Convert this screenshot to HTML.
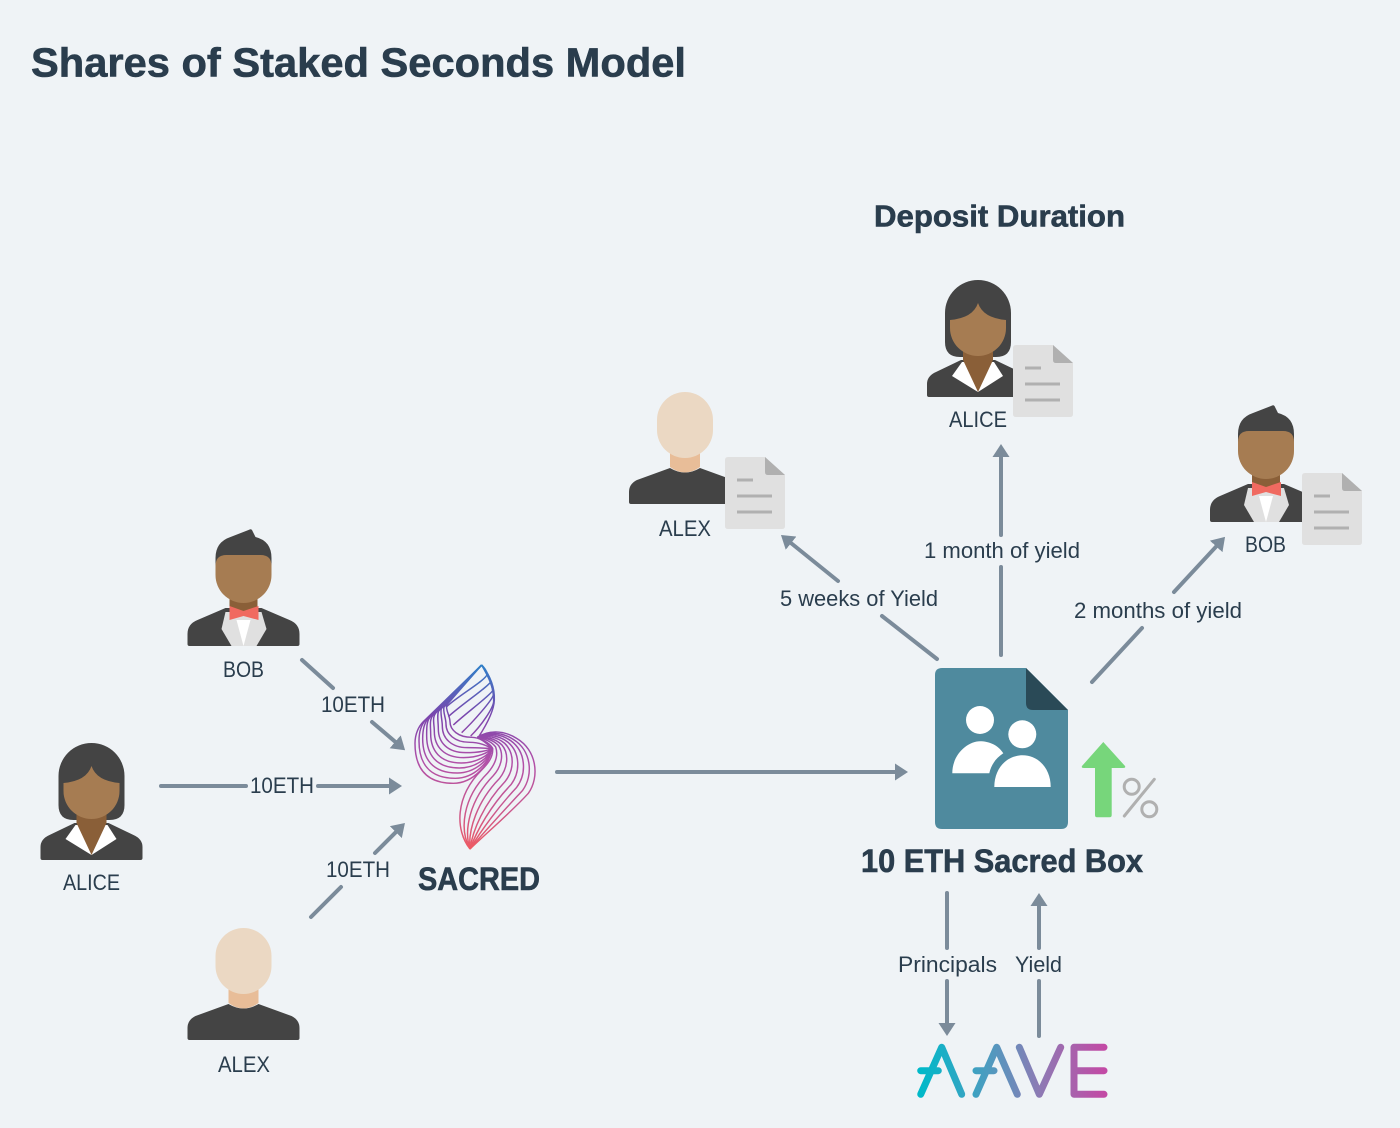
<!DOCTYPE html>
<html><head><meta charset="utf-8"><style>
html,body{margin:0;padding:0;background:#eff3f6}
svg{display:block}
text{font-family:"Liberation Sans",sans-serif;fill:#2a3d4d;font-size:22px}
.b{font-weight:bold;stroke:#2a3d4d;stroke-width:.6px}
.c{stroke:#7b8b9a;stroke-width:4;stroke-linecap:round;fill:none}
.ah{marker-end:url(#h)}
</style></head><body>
<svg width="1400" height="1128" viewBox="0 0 1400 1128" xmlns="http://www.w3.org/2000/svg">
<defs>
<marker id="h" markerUnits="userSpaceOnUse" markerWidth="13" markerHeight="17" refX="5" refY="8.5" orient="auto" viewBox="0 0 13 17"><path d="M0,0 L13,8.5 L0,17 Z" fill="#7b8b9a"/></marker>
<linearGradient id="sg" gradientUnits="userSpaceOnUse" x1="0" y1="45" x2="0" y2="597">
<stop offset="0" stop-color="#2f80c8"/><stop offset=".28" stop-color="#7b45ad"/><stop offset=".52" stop-color="#b04fa8"/><stop offset=".78" stop-color="#c9588f"/><stop offset="1" stop-color="#ee5a62"/></linearGradient>
<linearGradient id="ag" gradientUnits="userSpaceOnUse" x1="920" y1="0" x2="1104" y2="0">
<stop offset="0" stop-color="#00b9c9"/><stop offset=".38" stop-color="#4f9abf"/><stop offset=".65" stop-color="#8d7ab4"/><stop offset="1" stop-color="#c24aa5"/></linearGradient>
<g id="alice">
<path d="M-33,33 A33,33 0 0 1 33,33 V62 Q33,77 18,77 H-18 Q-33,77 -33,62 Z" fill="#444"/>
<path d="M-51,115 V104 Q-51,96 -42,92 L-17,80 H17 L42,92 Q51,96 51,104 V115 Q51,117 49,117 H-49 Q-51,117 -51,115 Z" fill="#444"/>
<path d="M-16,82 L-26,96 L0,112 L25,96 L16,82 Z" fill="#fff"/>
<path d="M-15,70 H15 V80 L0,112 L-15,80 Z" fill="#8a5f38"/>
<path d="M-28,40 Q-5,38 0,23 Q5,38 28,40 V48 A28,28 0 0 1 -28,48 Z" fill="#a67c52"/>
</g>
<g id="bob">
<path d="M-56,116 V106 Q-56,96 -46,92 L-18,80 H18 L46,92 Q56,96 56,106 V116 Q56,118 54,118 H-54 Q-56,118 -56,116 Z" fill="#444"/>
<path d="M-18,84 L-22,101 L-12,118 H13 L23,101 L18,84 Z" fill="#e0e0e0"/>
<path d="M-7,92 L0,118 L7,92 Z" fill="#fff"/>
<rect x="-14" y="62" width="28" height="22" fill="#8a5f38"/>
<path d="M-14,78 L0,83 L15,78 V92 L0,88 L-14,92 Z" fill="#f06a60"/>
<path d="M-28,42 V30 Q-28,14 -13,9 L5,2 Q8,0 9,3 L12,9 Q28,13 28,30 V42 Z" fill="#444"/>
<path d="M-28,38 Q-28,27 -17,27 H17 Q28,27 28,38 V47 A28,28 0 0 1 -28,47 Z" fill="#a67c52"/>
</g>
<g id="alex">
<path d="M-56,110 V100 Q-56,92 -48,88 L-15,76 Q0,85 15,76 L48,88 Q56,92 56,100 V110 Q56,112 54,112 H-54 Q-56,112 -56,110 Z" fill="#444"/>
<path d="M-15,55 H15 V75 Q0,86 -15,75 Z" fill="#e8bd98"/>
<rect x="-28" y="0" width="56" height="66" rx="28" fill="#ebd8c3"/>
</g>
<g id="doc">
<path d="M3,1 H40 L60,19 V70 Q60,73 57,73 H3 Q0,73 0,70 V4 Q0,1 3,1 Z" fill="#e0e0e0"/>
<path d="M40,1 L60,19 H43 Q40,19 40,16 Z" fill="#b0b0b0"/>
<path d="M12,24 H28 M12,40 H47 M12,56 H47" stroke="#b0b0b0" stroke-width="3" fill="none"/>
</g>
</defs>
<rect width="1400" height="1128" fill="#eff3f6"/>

<text class="b" x="31" y="76.5" style="font-size:41px" textLength="655" lengthAdjust="spacingAndGlyphs">Shares of Staked Seconds Model</text>
<text class="b" x="874" y="226.5" style="font-size:31px" textLength="251" lengthAdjust="spacingAndGlyphs">Deposit Duration</text>

<!-- people -->
<use href="#bob" x="243.5" y="528"/>
<use href="#alice" x="91.5" y="743"/>
<use href="#alex" x="243.5" y="928"/>
<use href="#alex" x="685" y="392"/>
<use href="#doc" x="725" y="456"/>
<use href="#alice" x="978" y="280"/>
<use href="#doc" x="1013" y="344"/>
<use href="#bob" x="1266" y="404"/>
<use href="#doc" x="1302" y="472"/>

<text x="223" y="677" textLength="41" lengthAdjust="spacingAndGlyphs">BOB</text>
<text x="63" y="890" textLength="57" lengthAdjust="spacingAndGlyphs">ALICE</text>
<text x="218" y="1072" textLength="52" lengthAdjust="spacingAndGlyphs">ALEX</text>
<text x="949" y="427" textLength="58" lengthAdjust="spacingAndGlyphs">ALICE</text>
<text x="659" y="536" textLength="52" lengthAdjust="spacingAndGlyphs">ALEX</text>
<text x="1245" y="552" textLength="41" lengthAdjust="spacingAndGlyphs">BOB</text>

<!-- connectors -->
<path class="c" d="M302,660 L333,688"/><path class="c ah" d="M372,722 L399,745"/>
<path class="c" d="M161,786 H246"/><path class="c ah" d="M318,786 H394"/>
<path class="c" d="M311,917 L341,887"/><path class="c ah" d="M375,853 L399.3,828.7"/>
<path class="c ah" d="M557,772 H900"/>
<path class="c" d="M937,659 L882,616"/><path class="c ah" d="M838,581 L787.2,540"/>
<path class="c" d="M1001,655 V567"/><path class="c ah" d="M1001,535 V452"/>
<path class="c" d="M1092,682 L1142,628"/><path class="c ah" d="M1174,592 L1219.6,542.8"/>
<path class="c" d="M947,893 V948"/><path class="c ah" d="M947,981 V1028"/>
<path class="c" d="M1039,1036 V981"/><path class="c ah" d="M1039,948 V901"/>

<text x="321" y="712" textLength="64" lengthAdjust="spacingAndGlyphs">10ETH</text>
<text x="250" y="793" textLength="64" lengthAdjust="spacingAndGlyphs">10ETH</text>
<text x="326" y="877" textLength="64" lengthAdjust="spacingAndGlyphs">10ETH</text>
<text x="780" y="606" textLength="158" lengthAdjust="spacingAndGlyphs">5 weeks of Yield</text>
<text x="924" y="558" textLength="156" lengthAdjust="spacingAndGlyphs">1 month of yield</text>
<text x="1074" y="618" textLength="168" lengthAdjust="spacingAndGlyphs">2 months of yield</text>
<text x="898" y="972" textLength="99" lengthAdjust="spacingAndGlyphs">Principals</text>
<text x="1015" y="972" textLength="47" lengthAdjust="spacingAndGlyphs">Yield</text>

<!-- sacred logo -->
<g transform="translate(400,650) scale(.3333)" fill="none" stroke="url(#sg)" stroke-width="4.4">
<path d="M210,597 C270,540 340,480 385,430 C420,380 410,300 350,265 C310,240 265,240 232,262"/>
<path d="M210,597 C257,540 318,475 368,421 C401,375 394,302 341,269 C305,245 263,244 232,262"/>
<path d="M210,597 C244,540 296,470 350,412 C381,370 378,305 332,272 C300,250 261,247 232,262"/>
<path d="M210,597 C231,540 274,465 333,404 C362,365 361,307 323,276 C295,255 259,251 232,262"/>
<path d="M210,597 C218,540 253,460 315,395 C343,360 345,310 314,280 C290,260 258,255 232,262"/>
<path d="M210,597 C204,540 231,455 298,386 C323,355 329,312 305,284 C285,265 256,259 232,262"/>
<path d="M210,597 C191,540 209,450 280,377 C304,350 313,315 296,287 C280,270 254,262 232,262"/>
<path d="M210,597 C178,540 187,445 263,369 C284,345 296,317 287,291 C275,275 252,266 232,262"/>
<path d="M210,597 C165,540 165,440 245,360 C265,340 280,320 278,295 C270,280 250,270 232,262"/>
<path d="M245,45 Q258,57 262,72 C259,90 175,137 140,170"/>
<path d="M245,45 Q268,75 272,95 C269,107 180,167 145,200"/>
<path d="M245,45 Q275,95 279,120 C276,132 195,192 160,225"/>
<path d="M245,45 Q280,105 280,135 C277,150 220,215 185,248"/>
<path d="M245,45 Q282,100 281,155 C279,175 245,226 212,258"/>
<path d="M245,45 Q285,95 283,150 Q282,190 235,262"/>
<path d="M245,45 L70,215 C56,229 45,252 45,280 C45,350 75,400 160,400 C220,400 272,340 275,295"/>
<path d="M245,45 L78,209 C64,223 57,247 57,273 C57,338 86,385 166,385 C223,385 271,334 275,295"/>
<path d="M245,45 L86,204 C72,218 68,240 68,266 C68,326 97,369 172,369 C225,369 270,327 275,295"/>
<path d="M245,45 L93,198 C79,212 80,234 80,258 C80,313 108,354 178,354 C228,354 269,321 275,295"/>
<path d="M245,45 L101,193 C87,207 92,229 92,251 C92,301 119,339 184,339 C231,339 268,315 275,295"/>
<path d="M245,45 L109,187 C95,201 103,223 103,244 C103,289 131,323 191,323 C234,323 266,308 275,295"/>
<path d="M245,45 L117,182 C110,190 115,217 115,237 C115,277 142,308 197,308 C237,308 265,302 275,295"/>
<path d="M245,45 L124,176 C120,188 127,210 127,229 C127,264 153,293 203,293 C240,293 264,296 275,295"/>
<path d="M245,45 L132,171 C128,185 138,204 138,222 C138,252 164,277 209,277 C242,277 263,289 275,295"/>
<path d="M245,45 L140,165 C136,179 150,198 150,215 C150,240 175,262 215,262 C245,262 262,283 275,295"/>
</g>
<text class="b" x="418" y="890" style="font-size:32px" textLength="122" lengthAdjust="spacingAndGlyphs">SACRED</text>

<!-- sacred box -->
<path d="M942,668 H1026 L1068,710 V822 Q1068,829 1061,829 H942 Q935,829 935,822 V675 Q935,668 942,668 Z" fill="#4f8a9e"/>
<path d="M1026,668 L1068,710 H1033 Q1026,710 1026,703 Z" fill="#2a4a57"/>
<circle cx="980" cy="720" r="14" fill="#fff"/>
<circle cx="1022.3" cy="734.3" r="14" fill="#fff"/>
<path d="M952.3,773.3 C952.3,754 968,741.3 980,741.3 C989,741.3 998,745 1003.3,753.3 C996,758 991,765 989.3,773.3 Z" fill="#fff"/>
<path d="M994.3,787 C994.3,768 1007,755.3 1022.5,755.3 C1038,755.3 1050.7,768 1050.7,787 Z" fill="#fff"/>
<path d="M1103.3,742 L1125,766 Q1126,768 1123,768 H1111.7 V815 Q1111.7,817.3 1109.5,817.3 H1097 Q1095,817.3 1095,815 V768 H1084 Q1081,768 1082,766 Z" fill="#77d67b"/>
<circle cx="1131.7" cy="786.7" r="7.5" fill="none" stroke="#b0b0b0" stroke-width="3"/>
<circle cx="1149.3" cy="809.3" r="7.5" fill="none" stroke="#b0b0b0" stroke-width="3"/>
<path d="M1154.3,779.3 L1124.3,816" stroke="#b0b0b0" stroke-width="3" stroke-linecap="round"/>
<text class="b" x="861" y="872" style="font-size:32px" textLength="282" lengthAdjust="spacingAndGlyphs">10 ETH Sacred Box</text>

<!-- AAVE -->
<g fill="none" stroke="url(#ag)" stroke-width="7" stroke-linecap="round" stroke-linejoin="round">
<path d="M920.7,1094.3 L941.7,1047.3 L961.7,1094.3 M920.7,1070.7 H938.3"/>
<path d="M976,1094.3 L996.7,1047.3 L1017.3,1094.3 M976,1070.7 H994"/>
<path d="M1019.3,1047.3 L1039.3,1094.3 L1060.7,1047.3"/>
<path d="M1104,1047.3 H1074 V1094.3 H1104 M1074,1070.7 H1104"/>
</g>
</svg>
</body></html>
